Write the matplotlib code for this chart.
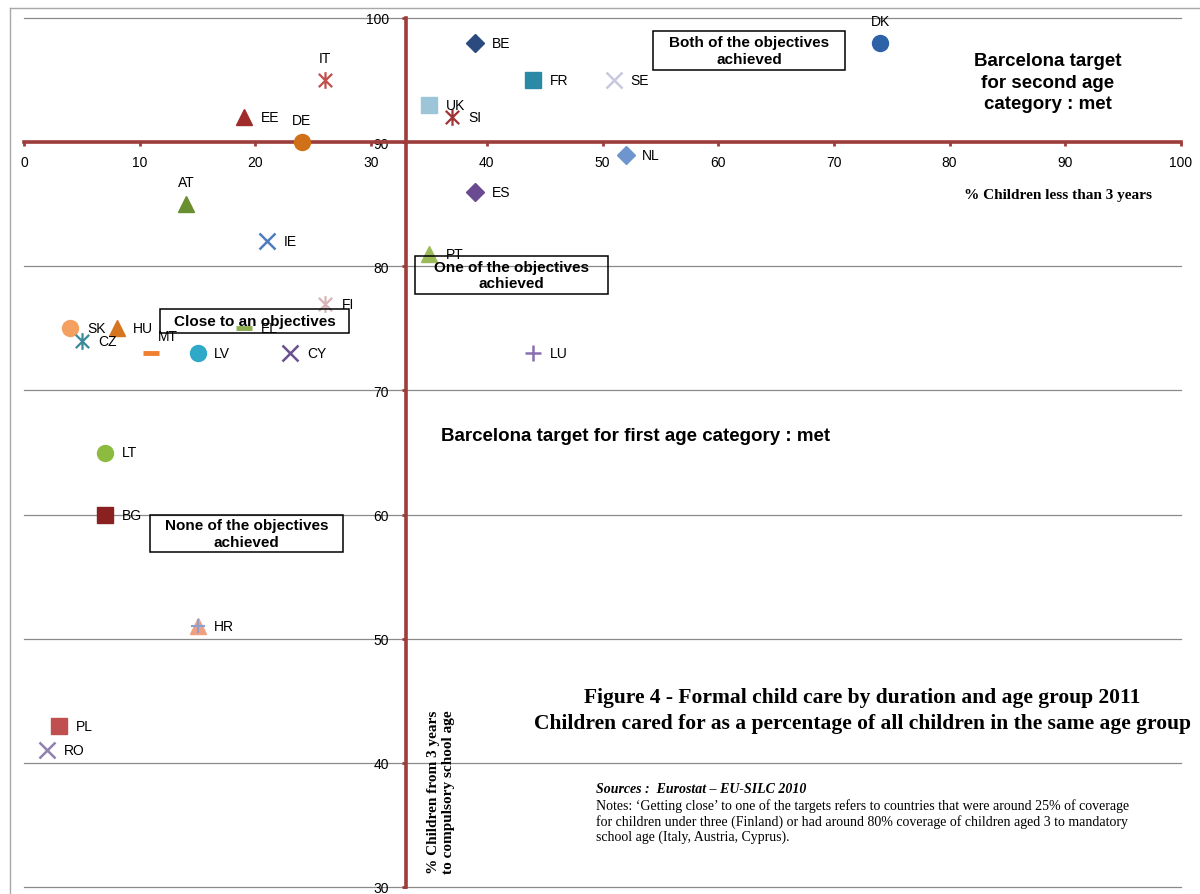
import matplotlib
matplotlib.use("Agg")
import matplotlib.pyplot as plt
from matplotlib.path import Path
from matplotlib.patches import Rectangle
from matplotlib.lines import Line2D

# ---------------- data ----------------
countries = ['DK', 'BE', 'FR', 'SE', 'UK', 'SI', 'IT', 'EE', 'DE', 'NL', 'ES', 'AT', 'IE', 'PT',
             'FI', 'SK', 'HU', 'EL', 'CZ', 'MT', 'LV', 'CY', 'LU', 'LT', 'BG', 'HR', 'PL', 'RO']
under3 = [74, 39, 44, 51, 35, 37, 26, 19, 24, 52, 39, 14, 21, 35,
          26, 4, 8, 19, 5, 11, 15, 23, 44, 7, 7, 15, 3, 2]
from3 = [98, 98, 95, 95, 93, 92, 95, 92, 90, 89, 86, 85, 82, 81,
         77, 75, 75, 75, 74, 73, 73, 73, 73, 65, 60, 51, 43, 41]
x_ticks = [0, 10, 20, 30, 40, 50, 60, 70, 80, 90, 100]
y_ticks = [30, 40, 50, 60, 70, 80, 90, 100]

# ---------------- styles ----------------
STAR = Path([(-1, -1), (1, 1), (-1, 1), (1, -1), (0, -1.25), (0, 1.25)],
            [Path.MOVETO, Path.LINETO] * 3)

style = {
    'DK': ('o', '#2E62A8'), 'BE': ('D', '#2B4A80'), 'FR': ('s', '#2A8AA5'),
    'SE': ('x', '#C8C8DF'), 'UK': ('s', '#9CC5D8'), 'SI': (STAR, '#A03434'),
    'IT': (STAR, '#C0504D'), 'EE': ('^', '#A02B2B'), 'DE': ('o', '#D07018'),
    'NL': ('D', '#6F95CF'), 'ES': ('D', '#6A4A90'), 'AT': ('^', '#6A8F30'),
    'IE': ('x', '#4F7CC0'), 'PT': ('^', '#9BBB59'), 'FI': (STAR, '#D8B4B8'),
    'SK': ('o', '#F4A060'), 'HU': ('^', '#D67520'), 'EL': ('_', '#8CAF50'),
    'CZ': (STAR, '#3A8A9A'), 'MT': ('_', '#F08030'), 'LV': ('o', '#30A8C8'),
    'CY': ('x', '#6A5090'), 'LU': ('+', '#8A70B0'), 'LT': ('o', '#8DBB40'),
    'BG': ('s', '#8B2020'), 'HR': ('^', '#F0A080'), 'PL': ('s', '#C05050'),
    'RO': ('x', '#9080B0'),
}
above = {'DK', 'IT', 'DE', 'AT'}

AX_RED = '#9E3B3B'
W, H = 1200, 895

plt.rcParams['font.family'] = ['Liberation Sans', 'DejaVu Sans']

fig = plt.figure(figsize=(W / 100, H / 100), dpi=100)
fig.patch.set_facecolor('white')


def fx(px):
    return px / W


def fy(py):
    return 1 - py / H


ax = fig.add_axes([fx(24), fy(888), fx(1181) - fx(24), fy(19) - fy(888)])
ax.set_xlim(0, 100)
ax.set_ylim(30, 100)
ax.set_facecolor('none')

for s in ['top', 'right']:
    ax.spines[s].set_visible(False)
ax.spines['left'].set_position(('data', 33))
ax.spines['bottom'].set_position(('data', 90))
for s in ['left', 'bottom']:
    ax.spines[s].set_color(AX_RED)
    ax.spines[s].set_linewidth(2.6)
    ax.spines[s].set_zorder(2.5)

ax.set_xticks(x_ticks)
ax.set_yticks(y_ticks)
ax.tick_params(axis='x', colors=AX_RED, length=3, width=2, pad=6, labelcolor='black', labelsize=10)
ax.tick_params(axis='y', colors=AX_RED, length=3, width=2, pad=9, labelcolor='black', labelsize=10)
ax.set_axisbelow(True)
ax.yaxis.grid(True, color='#8a8a8a', lw=0.9)
for gl in ax.yaxis.get_gridlines():
    gl.set_clip_on(False)

# ---------------- markers ----------------
for c, x, y in zip(countries, under3, from3):
    m, col = style[c]
    if m in ('o', 's', '^', 'D'):
        ms = {'o': 11.5, 's': 11, '^': 11, 'D': 9}[m]
        ax.plot(x, y, marker=m, ms=ms, color=col, mec=col, ls='none', zorder=4)
    elif m == '_':
        ax.plot(x, y, marker=m, ms=11, mew=3.5, color=col, ls='none', zorder=4)
    elif m is STAR:
        ax.plot(x, y, marker=STAR, ms=12, mew=1.6, color=col, mfc='none', ls='none', zorder=4)
    else:
        ax.plot(x, y, marker=m, ms=11, mew=1.8, color=col, ls='none', zorder=4)
    if c == 'HR':
        ax.plot(x, y, marker='+', ms=10, mew=1.5, color='#8AA0D0', ls='none', zorder=5)

    if c in above:
        ax.annotate(c, (x, y), xytext=(0, 16), textcoords='offset points',
                    ha='center', va='center', fontsize=10, zorder=6)
    elif c == 'MT':
        ax.annotate(c, (x, y), xytext=(5, 12.5), textcoords='offset points',
                    ha='left', va='center', fontsize=10, zorder=6)
    else:
        ax.annotate(c, (x, y), xytext=(12, 0), textcoords='offset points',
                    ha='left', va='center', fontsize=10, zorder=6)

# ---------------- boxes & annotations ----------------
def box(x0, y0, x1, y1, text):
    fig.add_artist(Rectangle((fx(x0), fy(y1)), fx(x1) - fx(x0), fy(y0) - fy(y1),
                             transform=fig.transFigure, fill=False, ec='black', lw=1.1, zorder=7))
    fig.text(fx((x0 + x1) / 2), fy((y0 + y1) / 2), text, ha='center', va='center',
             fontsize=11, fontweight='bold', linespacing=1.2, zorder=8)


box(653, 32, 845, 71, 'Both of the objectives\nachieved')
box(415, 257, 608, 295, 'One of the objectives\nachieved')
box(160, 310, 349, 334, 'Close to an objectives')
box(150, 516, 343, 553, 'None of the objectives\nachieved')

fig.text(fx(1048), fy(83), 'Barcelona target\nfor second age\ncategory : met', ha='center', va='center',
         fontsize=13.5, fontweight='bold', linespacing=1.38)
fig.text(fx(441), fy(437), 'Barcelona target for first age category : met', ha='left', va='center',
         fontsize=13.5, fontweight='bold')

serif = ['Liberation Serif', 'DejaVu Serif']
fig.text(fx(1058), fy(196), '% Children less than 3 years', ha='center', va='center',
         fontsize=11, fontweight='bold', family=serif)
fig.text(fx(441), fy(792), '% Children from 3 years\nto compulsory school age', ha='center', va='center',
         rotation=90, fontsize=11, fontweight='bold', family=serif, linespacing=1.15)

fig.text(fx(862), fy(711), 'Figure 4 - Formal child care by duration and age group 2011\n'
         'Children cared for as a percentage of all children in the same age group',
         ha='center', va='center', fontsize=15.5, fontweight='bold', family=serif, linespacing=1.42)

fig.text(fx(596), fy(790), 'Sources :  Eurostat \u2013 EU-SILC 2010', ha='left', va='center',
         fontsize=10, fontweight='bold', style='italic', family=serif)
fig.text(fx(596), fy(799),
         'Notes: \u2018Getting close\u2019 to one of the targets refers to countries that were around 25% of coverage\n'
         'for children under three (Finland) or had around 80% coverage of children aged 3 to mandatory\n'
         'school age (Italy, Austria, Cyprus).',
         ha='left', va='top', fontsize=10, family=serif, linespacing=1.17)

# outer frame lines
fig.add_artist(Line2D([fx(10), 1], [fy(9), fy(9)], transform=fig.transFigure, color='#a8a8a8', lw=1))
fig.add_artist(Line2D([fx(10), fx(10)], [0, fy(9)], transform=fig.transFigure, color='#a8a8a8', lw=1))

fig.savefig('out.png', dpi=100, facecolor='white')
